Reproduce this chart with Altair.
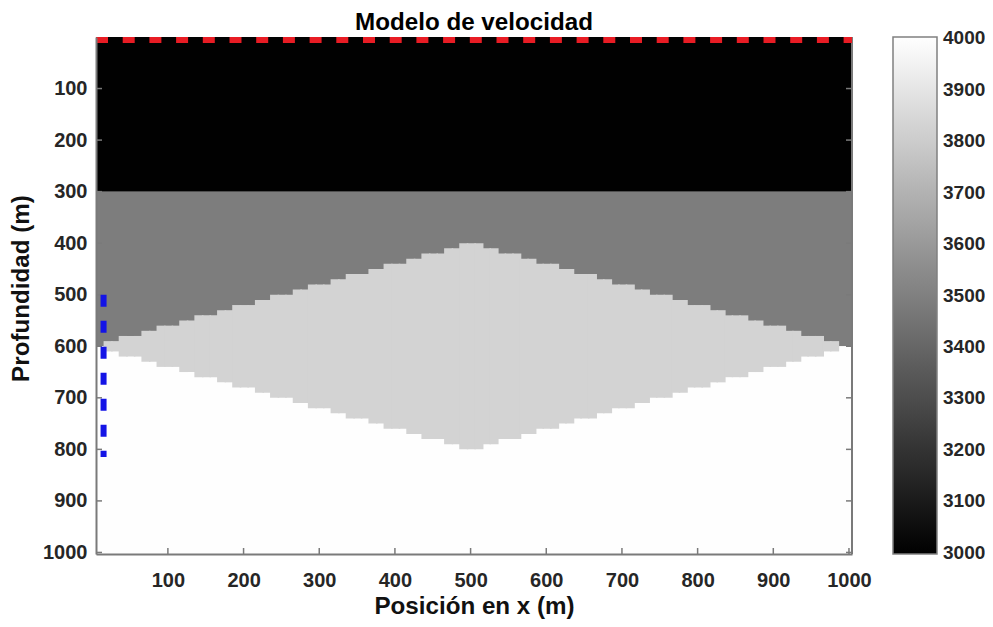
import altair as alt
import pandas as pd

# ---------------- data ----------------
# horizontal layers of the velocity model (depth in m, velocity in m/s)
layer_top = [0, 300, 600]
layer_bottom = [300, 600, 1010]
layer_vel = [3000, 3490, 4000]

# lens-shaped (diamond) body, 10 m grid columns
lens_vel = 3830
lens_axis_depth = 600
col_half = 5
col_centers = list(range(10, 1001, 10))
# top depth of the lens for columns x = 10 ... 500 (right half is the mirror)
lens_top_left = [600, 590, 590, 580, 580, 580, 570, 570, 560, 560,
                 560, 550, 550, 540, 540, 540, 530, 530, 520, 520,
                 520, 510, 510, 500, 500, 500, 490, 490, 480, 480,
                 480, 470, 470, 460, 460, 460, 450, 450, 440, 440,
                 440, 430, 430, 420, 420, 420, 410, 410, 400, 400]
lens_top = lens_top_left + lens_top_left[-2::-1] + [600]

# sources (red) and receivers (blue)
src_x = [5, 1004]
src_z = 6
rec_x = 15
rec_z = [500, 815]

x_ticks = [100, 200, 300, 400, 500, 600, 700, 800, 900, 1000]
y_ticks = [100, 200, 300, 400, 500, 600, 700, 800, 900, 1000]
c_ticks = [3000, 3100, 3200, 3300, 3400, 3500, 3600, 3700, 3800, 3900, 4000]
c_domain = [2998, 4002]

chart_title = "Modelo de velocidad"

# ---------------- tables ----------------
layers_df = pd.DataFrame({
    "x": [src_x[0]] * 3, "x2": [1010] * 3,
    "y": layer_top, "y2": layer_bottom, "v": layer_vel})

seam = 2  # small horizontal overlap so neighbouring columns show no hairline
lens_rows = []
for xc, t in zip(col_centers, lens_top):
    b = 2 * lens_axis_depth - t
    if b > t:
        lens_rows.append({"x": xc - col_half, "x2": xc + col_half + seam,
                          "y": t, "y2": b, "v": lens_vel})
lens_df = pd.DataFrame(lens_rows)

src_df = pd.DataFrame({"x": [src_x[0]], "x2": [src_x[1]], "y": [src_z]})
rec_df = pd.DataFrame({"x": [rec_x], "y": [rec_z[0]], "y2": [rec_z[1]]})
xt_df = pd.DataFrame({"x": x_ticks})
yt_df = pd.DataFrame({"y": y_ticks})
one_df = pd.DataFrame({"a": [0]})
title_df = pd.DataFrame({"t": [chart_title]})

# ---------------- styling ----------------
W, H = 756, 517
FONT = "Liberation Sans"
AX = "#7a7a7a"
TXT = "#262626"

xs = alt.Scale(domain=[5, 1004], nice=False, zero=False)
ys = alt.Scale(domain=[0, 1003], reverse=True, nice=False, zero=False)
cs = alt.Scale(domain=c_domain, range=["#000000", "#ffffff"], interpolate="rgb")

x_axis = alt.Axis(values=x_ticks, format="d", title="Posición en x (m)", grid=False,
                  ticks=False, tickSize=0, labelPadding=16, labelFont=FONT,
                  labelFontSize=20, labelFontWeight="bold", labelColor=TXT,
                  labelFlush=False, labelOverlap=False,
                  domainColor=AX, domainWidth=2, zindex=1,
                  titleFont=FONT, titleFontSize=24.2, titleFontWeight="bold",
                  titleColor="#111111", titleX=378, titleY=59,
                  titleAlign="center", titleBaseline="alphabetic")
y_axis = alt.Axis(values=y_ticks, format="d", title="Profundidad (m)", grid=False,
                  ticks=False, tickSize=0, labelPadding=9, labelFont=FONT,
                  labelFontSize=20, labelFontWeight="bold", labelColor=TXT,
                  labelFlush=False, labelOverlap=False,
                  domainColor=AX, domainWidth=2, zindex=1,
                  titleFont=FONT, titleFontSize=24.2, titleFontWeight="bold",
                  titleColor="#111111", titleAngle=270, titleX=-68, titleY=251,
                  titleAlign="center", titleBaseline="alphabetic")
legend = alt.Legend(type="gradient", orient="none", legendX=797, legendY=0,
                    direction="vertical",
                    gradientLength=H, gradientThickness=44, values=c_ticks,
                    format="d", title=None, labelFont=FONT, labelFontSize=19,
                    labelFontWeight="bold", labelColor=TXT, labelOffset=6,
                    labelOverlap=False, gradientStrokeColor="#808080",
                    gradientStrokeWidth=1.5)


def X(f):
    return alt.X(f, type="quantitative", scale=xs, axis=x_axis)


def Y(f):
    return alt.Y(f, type="quantitative", scale=ys, axis=y_axis)


base_layers = alt.Chart(layers_df).mark_rect(clip=True).encode(
    x=X("x"), x2="x2", y=Y("y"), y2="y2",
    color=alt.Color("v:Q", scale=cs, legend=legend))

lens = alt.Chart(lens_df).mark_rect(clip=True).encode(
    x=X("x"), x2="x2", y=Y("y"), y2="y2",
    color=alt.Color("v:Q", scale=cs, legend=legend))

sources = alt.Chart(src_df).mark_rule(color="#e81c24", strokeWidth=6,
                                      strokeDash=[12, 14.7]).encode(
    x=X("x"), x2="x2", y=Y("y"))

receivers = alt.Chart(rec_df).mark_rule(color="#1414e6", strokeWidth=6,
                                        strokeDash=[12, 14]).encode(
    x=X("x"), y=Y("y"), y2="y2")

xticks_bottom = alt.Chart(xt_df).mark_rule(color=AX, strokeWidth=1.5).encode(
    x=X("x"), y=alt.value(H), y2=alt.value(H - 6))
yticks_left = alt.Chart(yt_df).mark_rule(color=AX, strokeWidth=1.5).encode(
    y=Y("y"), x=alt.value(0), x2=alt.value(6))
yticks_right = alt.Chart(yt_df).mark_rule(color=AX, strokeWidth=1.5).encode(
    y=Y("y"), x=alt.value(W), x2=alt.value(W - 6))
right_edge = alt.Chart(one_df).mark_rule(color=AX, strokeWidth=2).encode(
    x=alt.value(W), y=alt.value(0), y2=alt.value(H))

title_mark = alt.Chart(title_df).mark_text(
    font=FONT, fontSize=24.2, fontWeight="bold", color="#000000",
    align="center", baseline="alphabetic").encode(
    x=alt.value(W / 2), y=alt.value(-7), text="t:N")

chart = alt.layer(
    base_layers, lens, xticks_bottom, yticks_left, yticks_right, right_edge,
    receivers, sources, title_mark
).properties(
    width=W, height=H,
    autosize=alt.AutoSizeParams(type="none"),
    padding={"left": 88, "top": 29, "right": 133, "bottom": 65},
).configure_view(stroke=None).configure(background="white")

chart.save("out.html", embed_options={"renderer": "svg", "actions": False})
